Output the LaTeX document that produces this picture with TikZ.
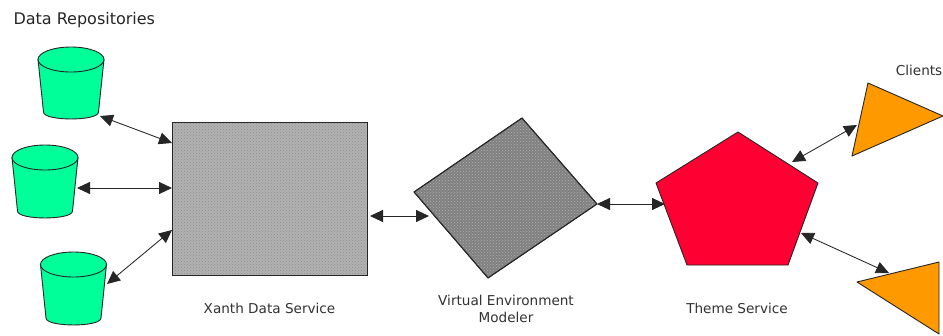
\documentclass[tikz,border=0pt]{standalone}
\usepackage{fontspec}
\setmainfont{DejaVu Sans}
\usetikzlibrary{arrows.meta,patterns}

\definecolor{repogreen}{RGB}{0,255,153}
\definecolor{servicegray}{RGB}{178,178,178}
\definecolor{modelergray}{RGB}{128,128,128}
\definecolor{themered}{RGB}{255,0,51}
\definecolor{clientorange}{RGB}{255,153,0}
\definecolor{labelgray}{RGB}{50,50,50}

\tikzset{
  shapeline/.style={draw=black!85, line width=0.9pt, line join=round},
  link/.style={draw=black!85, line width=0.85pt,
    {Triangle[length=13pt,width=12pt]}-{Triangle[length=13pt,width=12pt]}},
  label/.style={text=labelgray, font=\fontsize{13.6}{17}\selectfont, align=center},
  title/.style={text=black!85, font=\fontsize{16}{19}\selectfont, anchor=west},
}

% bucket-shaped data store: centre x, top-ellipse centre y, bottom y
\newcommand\repobucket[3]{%
  \filldraw[shapeline, fill=repogreen]
    (#1-33,#2) -- (#1-27.5,#3) .. controls (#1-27.5,#3+9.3) and (#1+27.5,#3+9.3) .. (#1+27.5,#3)
    -- (#1+33,#2) -- cycle;
  \filldraw[shapeline, fill=repogreen] (#1,#2) ellipse [x radius=33, y radius=12.5];
}

\begin{document}
\begin{tikzpicture}[x=1pt,y=-1pt]
\useasboundingbox[fill=white] (0,0) rectangle (943,335);

% data repositories
\repobucket{71}{59.5}{112}
\repobucket{45}{157.5}{211}
\repobucket{73.5}{264.5}{318}
\coordinate (r1) at (100,116);
\coordinate (r2) at (77,188);
\coordinate (r3) at (107,284);
\node[title] (reptitle) at (10,20) {Data Repositories};

% Xanth data service
\filldraw[shapeline, fill=servicegray] (172,122) rectangle (367,275);
\fill[pattern=crosshatch dots, pattern color=black!45] (173,123) rectangle (366,274);
\draw[shapeline] (172,122) rectangle (367,275);
\coordinate (x1) at (172,143);
\coordinate (x2) at (172,188);
\coordinate (x3) at (172,230);
\coordinate (x4) at (370,216);
\node[label] (xdslabel) at (269.5,308) {Xanth Data Service};

% virtual environment modeler
\filldraw[shapeline, fill=modelergray] (522,118) -- (597,204) -- (488,278) -- (414,192) -- cycle;
\fill[pattern=crosshatch dots, pattern color=black!30] (522,120) -- (595,204) -- (488,276) -- (416,192) -- cycle;
\draw[shapeline] (522,118) -- (597,204) -- (488,278) -- (414,192) -- cycle;
\coordinate (v1) at (429,216);
\coordinate (v2) at (597,204);
\node[label] (vemlabel) at (506,309) {Virtual Environment\\Modeler};

% theme service
\filldraw[shapeline, fill=themered] (738,132) -- (818,183) -- (788,265) -- (687,265) -- (656,183) -- cycle;
\coordinate (t1) at (665,204);
\coordinate (t2) at (792,162);
\coordinate (t3) at (801,233);
\node[label] (tslabel) at (737,308) {Theme Service};

% clients
\filldraw[shapeline, fill=clientorange] (868,83) -- (943,116) -- (852,156) -- cycle;
\filldraw[shapeline, fill=clientorange] (857,282) -- (939,262) -- (939,334) -- cycle;
\coordinate (c1) at (857,125);
\coordinate (c2) at (889,273);
\node[label, anchor=east, inner sep=0pt] (clabel) at (942.5,70) {Clients};

% connections
\draw[link] (r1) -- (x1);
\draw[link] (r2) -- (x2);
\draw[link] (r3) -- (x3);
\draw[link] (x4) -- (v1);
\draw[link] (v2) -- (t1);
\draw[link] (t2) -- (c1);
\draw[link] (t3) -- (c2);
\end{tikzpicture}
\end{document}
